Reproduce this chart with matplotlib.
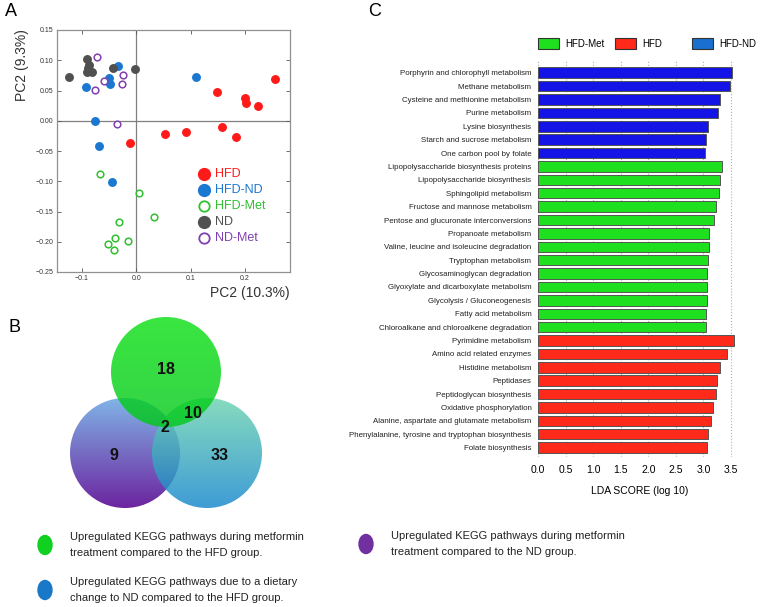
import numpy as np
import matplotlib
matplotlib.use('Agg')
import matplotlib.pyplot as plt
from matplotlib.patches import Circle, Rectangle, Ellipse

plt.rcParams['font.family'] = ['Liberation Sans', 'DejaVu Sans']

# ---- panel A: PCA scores
hfd_x = [0.255, 0.149, 0.200, 0.202, 0.225, 0.157, 0.052, 0.091, 0.184, -0.011]
hfd_y = [0.0685, 0.0475, 0.038, 0.030, 0.025, -0.010, -0.022, -0.018, -0.0265, -0.0375]
hfdnd_x = [0.110, -0.034, -0.051, -0.049, -0.093, -0.076, -0.069, -0.045]
hfdnd_y = [0.072, 0.090, 0.070, 0.060, 0.055, -0.001, -0.0425, -0.102]
nd_x = [-0.124, -0.091, -0.087, -0.091, -0.081, -0.043, -0.002, -0.089]
nd_y = [0.072, 0.102, 0.092, 0.080, 0.081, 0.087, 0.086, 0.087]
ndmet_x = [-0.073, -0.059, -0.076, -0.024, -0.026, -0.035]
ndmet_y = [0.105, 0.065, 0.051, 0.076, 0.060, -0.006]
hfdmet_x = [-0.066, 0.005, 0.032, -0.032, -0.040, -0.052, -0.041, -0.016]
hfdmet_y = [-0.088, -0.120, -0.159, -0.167, -0.194, -0.204, -0.214, -0.198]

# ---- panel B: venn counts
venn_counts = {'met_hfd': 18, 'met_hfd_nd': 10, 'all': 2, 'met_nd': 9, 'nd': 33}

# ---- panel C: LDA scores
pathways = [
    "Porphyrin and chlorophyll metabolism", "Methane metabolism",
    "Cysteine and methionine metabolism", "Purine metabolism",
    "Lysine biosynthesis", "Starch and sucrose metabolism",
    "One carbon pool by folate",
    "Lipopolysaccharide biosynthesis proteins", "Lipopolysaccharide biosynthesis",
    "Sphingolipid metabolism", "Fructose and mannose metabolism",
    "Pentose and glucuronate interconversions", "Propanoate metabolism",
    "Valine, leucine and isoleucine degradation", "Tryptophan metabolism",
    "Glycosaminoglycan degradation", "Glyoxylate and dicarboxylate metabolism",
    "Glycolysis / Gluconeogenesis", "Fatty acid metabolism",
    "Chloroalkane and chloroalkene degradation",
    "Pyrimidine metabolism", "Amino acid related enzymes", "Histidine metabolism",
    "Peptidases", "Peptidoglycan biosynthesis", "Oxidative phosphorylation",
    "Alanine, aspartate and glutamate metabolism",
    "Phenylalanine, tyrosine and tryptophan biosynthesis", "Folate biosynthesis",
]
lda = [3.51, 3.48, 3.30, 3.26, 3.09, 3.05, 3.02,
       3.33, 3.30, 3.28, 3.22, 3.20, 3.11, 3.11, 3.08, 3.07, 3.06, 3.06, 3.05, 3.04,
       3.55, 3.43, 3.30, 3.25, 3.23, 3.17, 3.13, 3.09, 3.06]
groups = ['HFD-ND'] * 7 + ['HFD-Met'] * 13 + ['HFD'] * 9

W, H = 760, 607
fig = plt.figure(figsize=(7.6, 6.07), dpi=100)

def px_axes(x0, y0, x1, y1):
    return fig.add_axes([x0 / W, 1 - y1 / H, (x1 - x0) / W, (y1 - y0) / H])

# ---------------- A
ax = px_axes(57, 30, 290, 272)
ax.axhline(0, color='#808080', lw=0.9, zorder=1)
ax.axvline(0, color='#808080', lw=0.9, zorder=1)
ms = 5.4
ax.plot(hfd_x, hfd_y, 'o', color='#ff1a1a', ms=ms, zorder=3)
ax.plot(hfdnd_x, hfdnd_y, 'o', color='#1a78d0', ms=ms, zorder=3)
ax.plot(nd_x, nd_y, 'o', color='#505050', ms=ms, zorder=3)
ax.plot(ndmet_x, ndmet_y, 'o', mfc='white', mec='#8040b0', mew=1.1, ms=ms - 0.6, zorder=3)
ax.plot(hfdmet_x, hfdmet_y, 'o', mfc='white', mec='#30c030', mew=1.1, ms=ms - 0.6, zorder=3)
ax.set_xlim(-0.146, 0.283)
ax.set_ylim(-0.25, 0.15)
ax.set_xticks([-0.1, 0.0, 0.1, 0.2])
ax.set_xticklabels(['\u22120.1', '0.0', '0.1', '0.2'])
yt = np.round(np.arange(-0.25, 0.151, 0.05), 2) + 0.0
ax.set_yticks(yt)
ax.set_yticklabels([('%.2f' % v).replace('-', '\u2212') for v in yt])
ax.tick_params(direction='in', top=True, right=True, labelsize=5, length=3,
               colors='#555555', labelcolor='#333333', width=0.6, pad=2.5)
for s in ax.spines.values():
    s.set_color('#909090')
    s.set_linewidth(0.9)

fig.text(22 / W, 1 - 65 / H, 'PC2 (9.3%)', rotation=90, fontsize=10, ha='center',
         va='center', color='#333333')
fig.text(290 / W, 1 - 293 / H, 'PC2 (10.3%)', fontsize=10, ha='right', va='center',
         color='#333333')

# ---------------- C
colors = {'HFD-ND': '#1414e6', 'HFD-Met': '#1ee01e', 'HFD': '#ff2a1a'}
axc = px_axes(537, 60, 742, 457)
yp = np.arange(len(pathways))
axc.barh(yp, lda, height=0.78, color=[colors[g] for g in groups],
         edgecolor='#555555', linewidth=0.7, zorder=3)
axc.set_ylim(len(pathways) - 0.3, -0.95)
axc.set_xlim(-0.02, 3.7)
axc.set_xticks(np.arange(0, 3.51, 0.5))
axc.set_xticklabels(['%.1f' % v for v in np.arange(0, 3.51, 0.5)])
axc.set_yticks(yp)
axc.set_yticklabels(pathways, color='#222222')
axc.tick_params(axis='y', length=0, labelsize=5.7, pad=4)
axc.tick_params(axis='x', length=0, labelsize=7.5, pad=6)
axc.grid(axis='x', linestyle=':', color='#b0b0b0', lw=0.8, zorder=0)
for s in axc.spines.values():
    s.set_visible(False)
axc.set_xlabel('LDA SCORE (log 10)', fontsize=7.5, labelpad=8)

# overlay in pixel coords for venn, legends and notes (on top, transparent)
ov = fig.add_axes([0, 0, 1, 1], zorder=10)
ov.patch.set_alpha(0)
ov.axis('off')

leg_items = [('HFD', '#ff1a1a', True), ('HFD-ND', '#1a78d0', True),
             ('HFD-Met', '#30c030', False), ('ND', '#505050', True),
             ('ND-Met', '#8040b0', False)]
for i, (lab, c, filled) in enumerate(leg_items):
    yy = 174 + 16 * i
    if filled:
        ov.plot(204, yy, 'o', color=c, ms=8.5)
    else:
        ov.plot(204, yy, 'o', mfc='white', mec=c, mew=1.3, ms=7.5)
    ov.text(215, yy, lab, color=c, fontsize=9, va='center', ha='left')

def grad_circle(cx, cy, r, c_top, c_bot, alpha, z):
    circ = Circle((cx, cy), r, facecolor='none', edgecolor='none')
    ov.add_patch(circ)
    t = np.linspace(0, 1, 256)[:, None]
    top = np.array(matplotlib.colors.to_rgb(c_top))
    bot = np.array(matplotlib.colors.to_rgb(c_bot))
    img = (top[None, None, :] * (1 - t[..., None]) + bot[None, None, :] * t[..., None])
    img = np.repeat(img, 2, axis=1)
    im = ov.imshow(img, extent=(cx - r, cx + r, cy + r, cy - r), alpha=alpha,
                   zorder=z, interpolation='bilinear', aspect='auto')
    im.set_clip_path(circ)

r = 55
grad_circle(125, 453, r, '#80b4e6', '#6c24a0', 1.0, 2)
grad_circle(207, 453, r, '#6cd4b0', '#1486cc', 0.82, 3)
grad_circle(166, 372, r, '#08e010', '#00c818', 0.8, 4)
ov.set_xlim(0, W)
ov.set_ylim(H, 0)

vfs = 11.5
vkw = dict(fontsize=vfs, ha='center', va='center', zorder=6, fontweight='bold', color='#111111')
ov.text(166, 370, str(venn_counts['met_hfd']), **vkw)
ov.text(193, 413, str(venn_counts['met_hfd_nd']), **vkw)
ov.text(165, 428, str(venn_counts['all']), **vkw)
ov.text(114, 455, str(venn_counts['met_nd']), **vkw)
ov.text(220, 455, str(venn_counts['nd']), **vkw)

notes = [(45, 545, '#10d020', 'Upregulated KEGG pathways during metformin\ntreatment compared to the HFD group.'),
         (366, 544, '#7030a0', 'Upregulated KEGG pathways during metformin\ntreatment compared to the ND group.'),
         (45, 590, '#1a78c8', 'Upregulated KEGG pathways due to a dietary\nchange to ND compared to the HFD group.')]
for x, y, c, t in notes:
    ov.add_patch(Ellipse((x, y), 14, 19, color=c))
    ov.text(x + 25, y, t, fontsize=8, va='center', ha='left', linespacing=1.75, color='#222222')

for i, g in enumerate(['HFD-Met', 'HFD', 'HFD-ND']):
    x0 = 538 + 77 * i
    ov.add_patch(Rectangle((x0, 38), 21, 11, facecolor=colors[g] if g != 'HFD-ND' else '#1a70d0',
                           edgecolor='#333333', lw=0.8))
    ov.text(x0 + 27, 44, g, fontsize=7, va='center', ha='left')

fig.text(5 / W, 1 - 12 / H, 'A', fontsize=13, va='center')
fig.text(8 / W, 1 - 327 / H, 'B', fontsize=13, va='center')
fig.text(368 / W, 1 - 12 / H, 'C', fontsize=13, va='center')

fig.savefig('out.png', dpi=100)
